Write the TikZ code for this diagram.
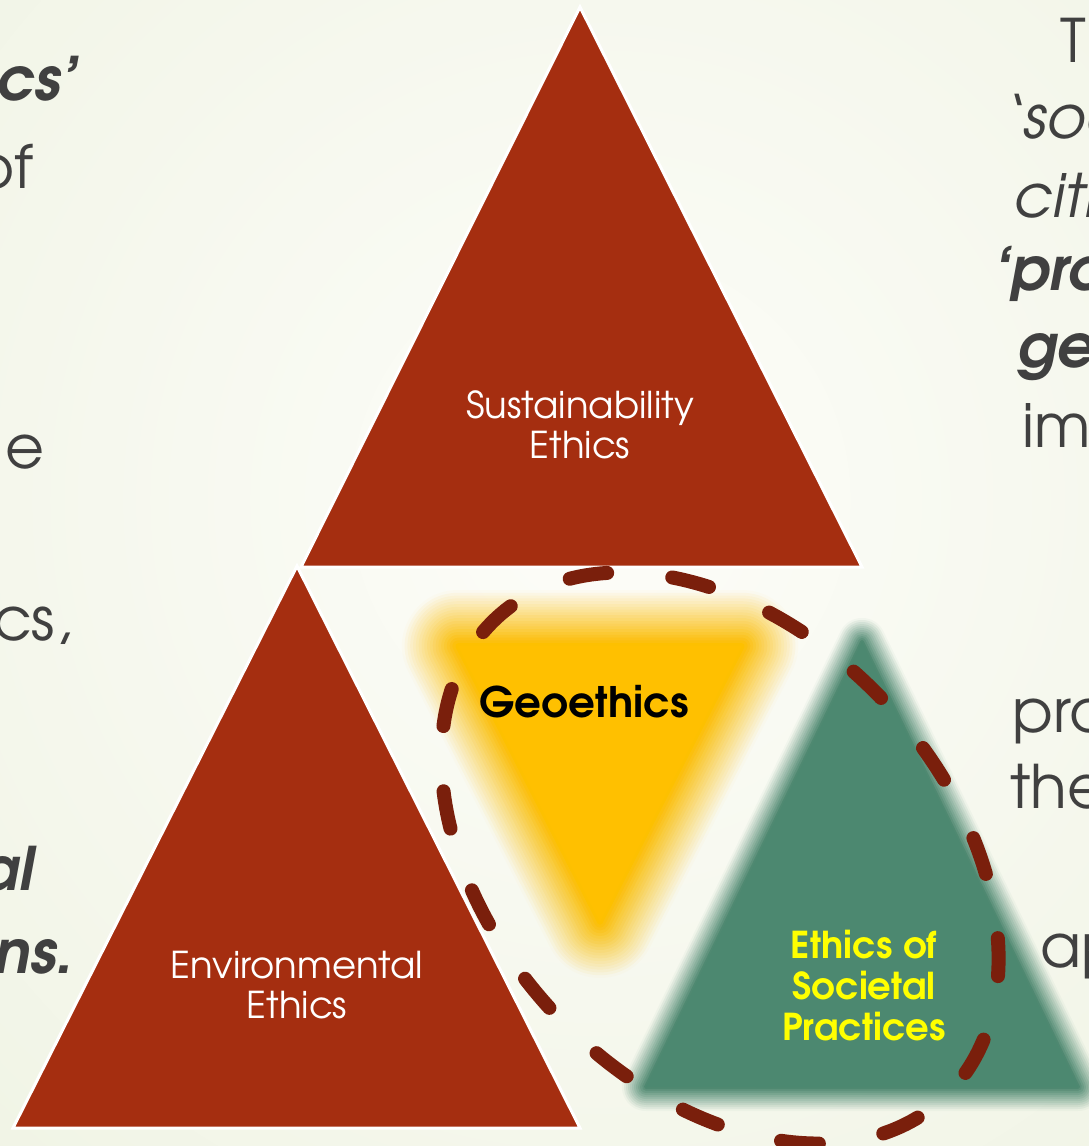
\documentclass[tikz,border=0pt]{standalone}
\usepackage{fontspec}
\setmainfont{texgyreadventor}[Extension=.otf, UprightFont=*-regular, BoldFont=*-bold, ItalicFont=*-italic, BoldItalicFont=*-bolditalic]
\definecolor{redc}{RGB}{165,46,16}
\definecolor{dashc}{RGB}{122,31,12}
\definecolor{yelc}{RGB}{255,192,0}
\definecolor{grnc}{RGB}{76,136,112}
\definecolor{sidegray}{RGB}{64,64,64}
\definecolor{lblyel}{RGB}{255,255,0}
\definecolor{bgin}{RGB}{253,253,249}
\definecolor{bgout}{RGB}{232,238,216}
\begin{document}
\begin{tikzpicture}[x=1pt,y=-1pt,
  redtri/.style={fill=redc, draw=white, line width=3pt, line join=miter},
  lbl/.style={inner sep=0pt, align=center},
  side/.style={inner sep=0pt, text=sidegray, font=\fontsize{60}{72}\selectfont},
  dashring/.style={draw=dashc, line width=14pt, line cap=round, dash pattern=on 38pt off 65.4pt, dash phase=70.7pt}]
\useasboundingbox (0,0) rectangle (1089,1146);
\clip (0,0) rectangle (1089,1146);
% background
\fill[bgout] (0,0) rectangle (1089,1146);
\shade[inner color=bgin, outer color=bgout] (600,500) circle (1500);
% red triangles
\filldraw[redtri] (580,7) -- (862,567) -- (301,567) -- cycle;
\filldraw[redtri] (297,566) -- (580,1128) -- (13,1128) -- cycle;
% blurred yellow inverted triangle (linear fade, radius 56)
\coordinate (ya) at (458,646);
\coordinate (yb) at (742,646);
\coordinate (yc) at (600,922);
\fill[yelc] (ya) -- (yb) -- (yc) -- cycle;
\foreach \k in {1,...,19}{
  \pgfmathsetmacro\lw{2*56*\k/20}
  \pgfmathsetmacro\op{1/(\k+0.5)}
  \draw[yelc, opacity=\op, line width=\lw pt, line join=round] (ya) -- (yb) -- (yc) -- cycle;
}
\draw[yelc, opacity=0.025, line width=112pt, line join=round] (ya) -- (yb) -- (yc) -- cycle;
% blurred green triangle (linear fade, radius 24)
\coordinate (ga) at (646,1087);
\coordinate (gb) at (1078,1087);
\coordinate (gc) at (862,642);
\fill[grnc] (ga) -- (gb) -- (gc) -- cycle;
\foreach \k in {1,...,11}{
  \pgfmathsetmacro\lw{2*24*\k/12}
  \pgfmathsetmacro\op{1/(\k+0.5)}
  \draw[grnc, opacity=\op, line width=\lw pt, line join=round] (ga) -- (gb) -- (gc) -- cycle;
}
\draw[grnc, opacity=0.0417, line width=48pt, line join=round] (ga) -- (gb) -- (gc) -- cycle;
% labels
\node[lbl, text=white, font=\fontsize{37}{40}\selectfont] (sust) at (580,425) {Sustainability\\Ethics};
\node[lbl, text=white, font=\fontsize{37}{40}\selectfont] (env) at (297,985) {Environmental\\Ethics};
\node[lbl, text=black, font=\bfseries\fontsize{42}{50}\selectfont] (geo) at (584,702) {Geoethics};
\node[lbl, text=lblyel, font=\bfseries\fontsize{37}{41}\selectfont] (soc) at (864,986) {Ethics of\\Societal\\Practices};
% dashed ring
\draw[dashring, rotate around={-47:(720,858)}] (720,858) ellipse [x radius=328, y radius=227];
% left side text fragments
\node[side, anchor=base east] (l1) at (78,100) {\bfseries\itshape cs’};
\node[side, anchor=base east] (l2) at (34,188) {of};
\node[side, anchor=base east] (l3) at (45,468) {e};
\node[side, anchor=base east] (l4) at (72,640) {cs,};
\node[side, anchor=base east] (l5) at (34,890) {\bfseries\itshape al};
\node[side, anchor=base east] (l6) at (74,973) {\bfseries\itshape ns.};
% right side text fragments
\node[side, anchor=base west] (r1) at (1060,62) {T};
\node[side, anchor=base west] (r2) at (1002,138) {\itshape ‘soc};
\node[side, anchor=base west] (r3) at (1013,217) {\itshape citi};
\node[side, anchor=base west] (r4) at (993,290) {\bfseries\itshape ‘pro};
\node[side, anchor=base west] (r5) at (1017,367) {\bfseries\itshape ge};
\node[side, anchor=base west] (r6) at (1022,447) {im};
\node[side, anchor=base west] (r7) at (1012,732) {pro};
\node[side, anchor=base west] (r8) at (1010,808) {the};
\node[side, anchor=base west] (r9) at (1040,967) {ap};
\end{tikzpicture}
\end{document}
